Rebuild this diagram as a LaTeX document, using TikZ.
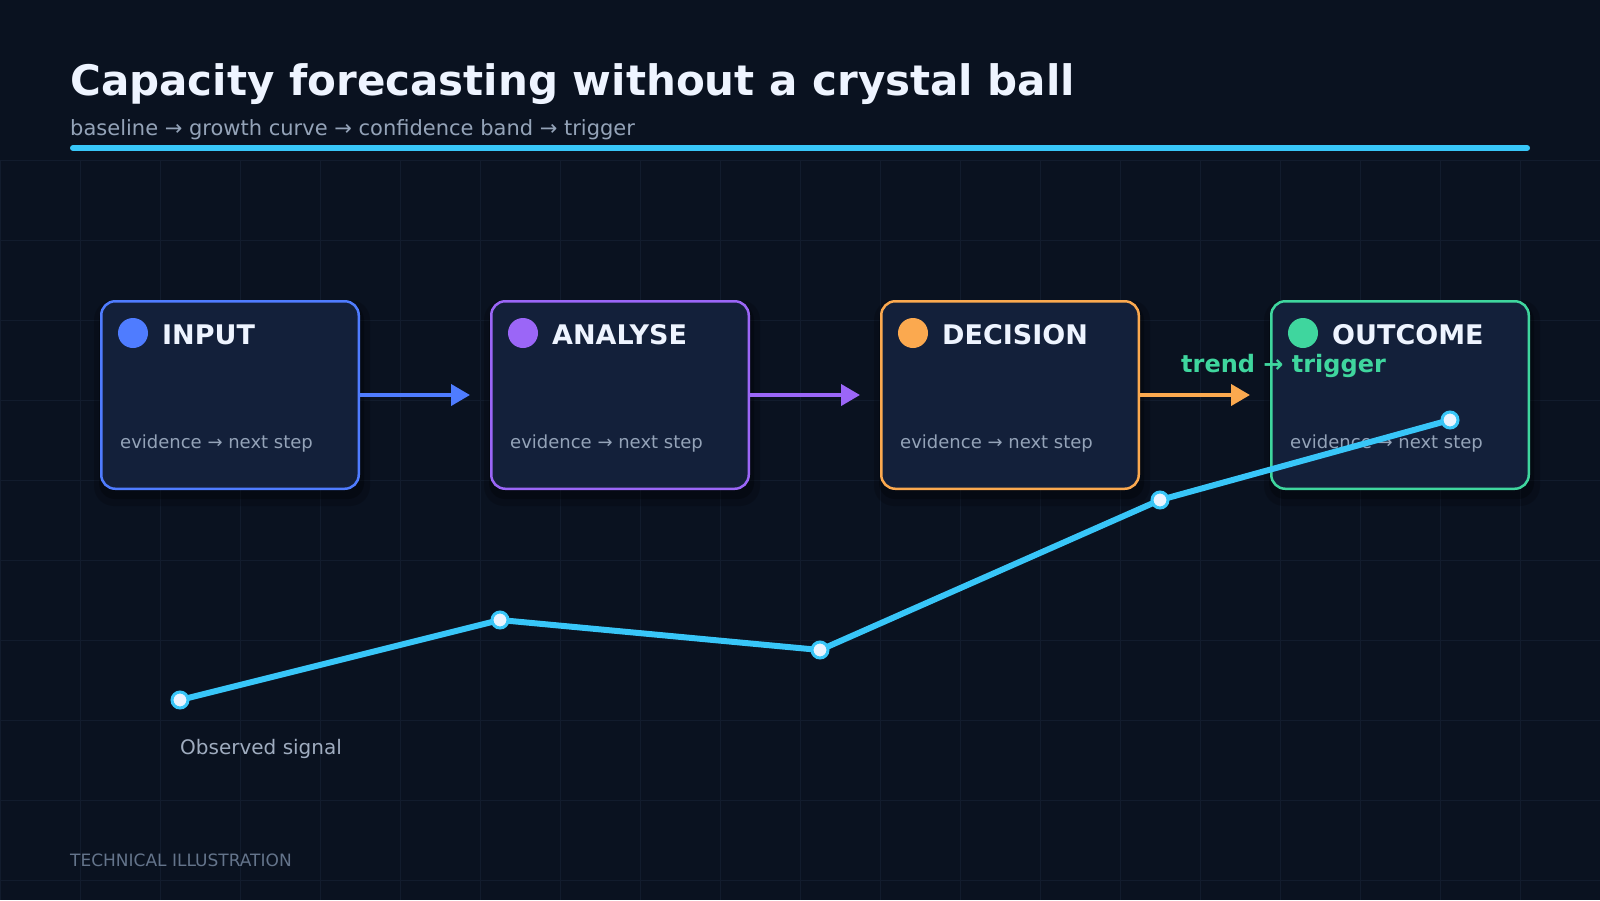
\documentclass[tikz,border=0pt]{standalone}
\usepackage{fontspec}
\setmainfont{DejaVu Sans}
\usetikzlibrary{arrows.meta,calc}

\definecolor{bgcol}{HTML}{0A1220}
\definecolor{gridcol}{HTML}{121C2D}
\definecolor{boxcol}{HTML}{13203A}
\definecolor{titlecol}{HTML}{EEF4FF}
\definecolor{mutedcol}{HTML}{94A3B8}
\definecolor{footcol}{HTML}{64748B}
\definecolor{sigcol}{HTML}{38C6F8}
\definecolor{dotfill}{HTML}{EAF4FF}
\definecolor{stageblue}{HTML}{4F7CFF}
\definecolor{stagepurple}{HTML}{9B66F7}
\definecolor{stageorange}{HTML}{FBA94F}
\definecolor{stagegreen}{HTML}{3FD69E}

\begin{document}
\begin{tikzpicture}[x=1pt,y=-1pt,
  gridline/.style={draw=gridcol, line width=1pt},
  txt/.style={inner sep=0pt, anchor=base west},
  stagebox/.style={draw=#1, fill=boxcol, line width=2.5pt, rounded corners=14pt,
    minimum width=257.5pt, minimum height=187.5pt, inner sep=0pt},
  stagedot/.style={circle, fill=#1, minimum size=30pt, inner sep=0pt},
  flow/.style={draw=#1, line width=4pt, -{Triangle[length=19pt,width=21pt]}, shorten >=20pt},
  signal/.style={draw=sigcol, line width=6pt, line join=round, line cap=round},
  sigdot/.style={circle, draw=sigcol, fill=dotfill, line width=3pt, minimum size=16pt, inner sep=0pt}]

% Background
\useasboundingbox (0,0) rectangle (1600,900);
\fill[bgcol] (0,0) rectangle (1600,900);

% Grid
\foreach \gx in {0,80,...,1600}
    \draw[gridline] (\gx,160) -- (\gx,900);
\foreach \gy in {160,240,...,880}
    \draw[gridline] (0,\gy) -- (1600,\gy);

% Title
\node[txt, text=titlecol, font=\fontsize{42}{50}\selectfont\bfseries] (title) at (70,95)
    {Capacity forecasting without a crystal ball};
\node[txt, text=mutedcol, font=\fontsize{21}{25}\selectfont] (subtitle) at (70,135)
    {baseline → growth curve → confidence band → trigger};
\draw[sigcol, line width=6pt, line cap=round] (73,148) -- (1527,148);

% Stages
\foreach \x/\name/\lbl/\col in {100/input/INPUT/stageblue, 490/analyse/ANALYSE/stagepurple,
    880/decision/DECISION/stageorange, 1270/outcome/OUTCOME/stagegreen} {
    \fill[black, opacity=.18, rounded corners=20pt] (\x-6,300) rectangle (\x+270,506);
    \fill[black, opacity=.25, rounded corners=16pt] (\x-1,304) rectangle (\x+264,499);
    \node[stagebox=\col] (\name) at (\x+130,395) {};
    \node[stagedot=\col] (\name-dot) at (\x+33,333) {};
    \node[txt, text=titlecol, font=\fontsize{27}{31}\selectfont\bfseries] (\name-lbl) at (\x+62,344) {\lbl};
    \node[txt, text=mutedcol, font=\fontsize{18}{22}\selectfont] (\name-note) at (\x+20,448) {evidence → next step};
}

% Arrows between stages
\draw[flow=stageblue] (input) -- (analyse);
\draw[flow=stagepurple] (analyse) -- (decision);
\draw[flow=stageorange] (decision) -- (outcome);
\node[txt, text=stagegreen, font=\fontsize{24}{28}\selectfont\bfseries] (trend) at (1181,372) {trend → trigger};

% Observed signal
\coordinate (s1) at (180,700);
\coordinate (s2) at (500,620);
\coordinate (s3) at (820,650);
\coordinate (s4) at (1160,500);
\coordinate (s5) at (1450,420);
\draw[signal] (s1) -- (s2) -- (s3) -- (s4) -- (s5);
\foreach \i in {1,...,5}
    \node[sigdot] (d\i) at (s\i) {};
\node[txt, text=mutedcol!90!white, font=\fontsize{20}{24}\selectfont] (siglbl) at (180,754) {Observed signal};

% Footer
\node[txt, text=footcol, font=\fontsize{17}{20}\selectfont] (footer) at (70,866) {TECHNICAL ILLUSTRATION};
\end{tikzpicture}
\end{document}
